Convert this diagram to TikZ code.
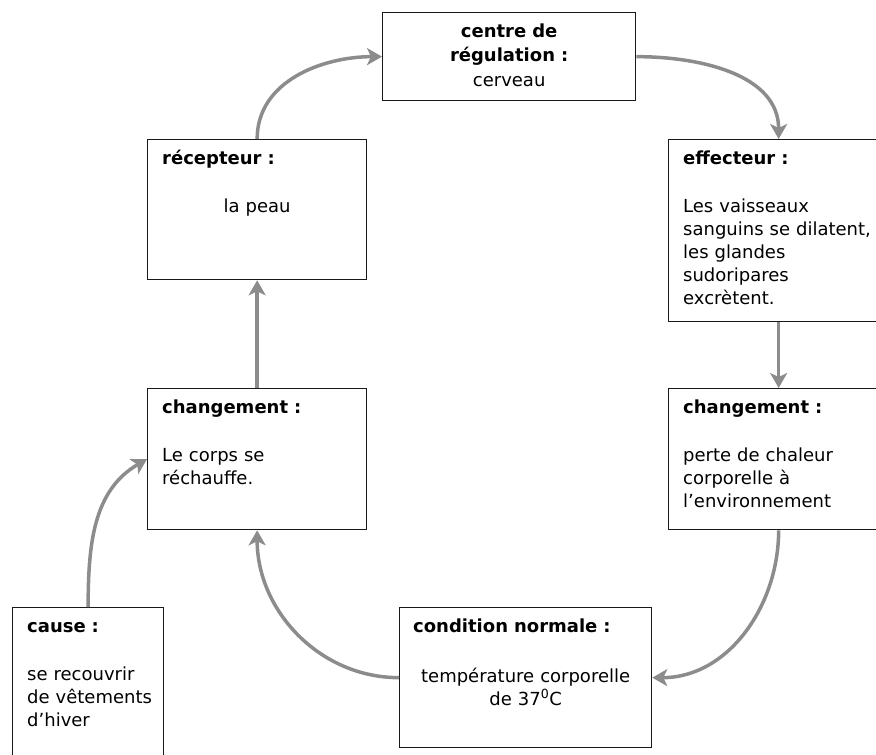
\documentclass[tikz,border=0pt]{standalone}
\usepackage{fontspec}
\setmainfont{DejaVu Sans}
\usetikzlibrary{arrows.meta}
\tikzset{
	box/.style={draw=black!90, line width=1.3pt, anchor=north west, inner sep=0pt},
	boxtext/.style={inner sep=0pt, text width=#1, font=\fontsize{18}{23}\selectfont},
	boxtext/.default=210pt,
	title/.style={boxtext, anchor=base west, align=left, font=\fontsize{18}{23}\selectfont\bfseries},
	flow/.style={draw=black!45, line width=3.5pt, -{Stealth[length=15pt,width=17pt,inset=4pt]}},
}

\begin{document}
\begin{tikzpicture}[x=1pt,y=-1pt]
	\useasboundingbox (0,0) rectangle (876,755);
	% boxes
	\node[box, minimum width=253pt, minimum height=88pt] at (382,12) (reg) {};
	\node[box, minimum width=219pt, minimum height=140pt] at (147,139) (recep) {};
	\node[box, minimum width=220pt, minimum height=182pt] at (668,139) (effect) {};
	\node[box, minimum width=219pt, minimum height=141pt] at (147,388) (chL) {};
	\node[box, minimum width=220pt, minimum height=141pt] at (668,388) (chR) {};
	\node[box, minimum width=151pt, minimum height=160pt] at (12,607) (cause) {};
	\node[box, minimum width=252pt, minimum height=140pt] at (399,607) (norm) {};
	% texts
	\node[boxtext=240pt, anchor=base, align=center, font=\fontsize{18}{24.5}\selectfont]
		at ([yshift=-25pt]reg.north) (reg-t) {\textbf{centre de}\\\textbf{régulation :}\\cerveau};
	\node[title] at ([shift={(15,25)}]recep.north west) (recep-t) {récepteur :};
	\node[boxtext, anchor=base, align=center] at ([yshift=-73pt]recep.north) (recep-b) {la peau};
	\node[title] at ([shift={(15,25)}]effect.north west) (effect-t) {effecteur :};
	\node[boxtext, anchor=base west, align=left] at ([shift={(15,73)}]effect.north west) (effect-b)
		{Les vaisseaux\\sanguins se dilatent,\\les glandes\\sudoripares\\excrètent.};
	\node[title] at ([shift={(15,25)}]chL.north west) (chL-t) {changement :};
	\node[boxtext, anchor=base west, align=left] at ([shift={(15,73)}]chL.north west) (chL-b)
		{Le corps se\\réchauffe.};
	\node[title] at ([shift={(15,25)}]chR.north west) (chR-t) {changement :};
	\node[boxtext, anchor=base west, align=left] at ([shift={(15,73)}]chR.north west) (chR-b)
		{perte de chaleur\\corporelle à\\l’environnement};
	\node[title] at ([shift={(15,25)}]cause.north west) (cause-t) {cause :};
	\node[boxtext, anchor=base west, align=left] at ([shift={(15,73)}]cause.north west) (cause-b)
		{se recouvrir\\de vêtements\\d’hiver};
	\node[title] at ([shift={(14,25)}]norm.north west) (norm-t) {condition normale :};
	\node[boxtext=240pt, anchor=base, align=center] at ([yshift=-75pt]norm.north) (norm-b)
		{température corporelle\\de 37\textsuperscript{0}C};
	% arrows
	\draw[flow] (recep.north) to[out=90,in=180] (reg.west);
	\draw[flow] (reg.east) to[out=0,in=90] (effect.north);
	\draw[flow] (effect.south) -- (chR.north);
	\draw[flow] (chR.south) to[out=-90,in=0] (norm.east);
	\draw[flow] (norm.west) to[out=180,in=-90] (chL.south);
	\draw[flow] (chL.north) -- (recep.south);
	\draw[flow] (cause.north) to[out=90,in=210] (chL.west);
\end{tikzpicture}
\end{document}
